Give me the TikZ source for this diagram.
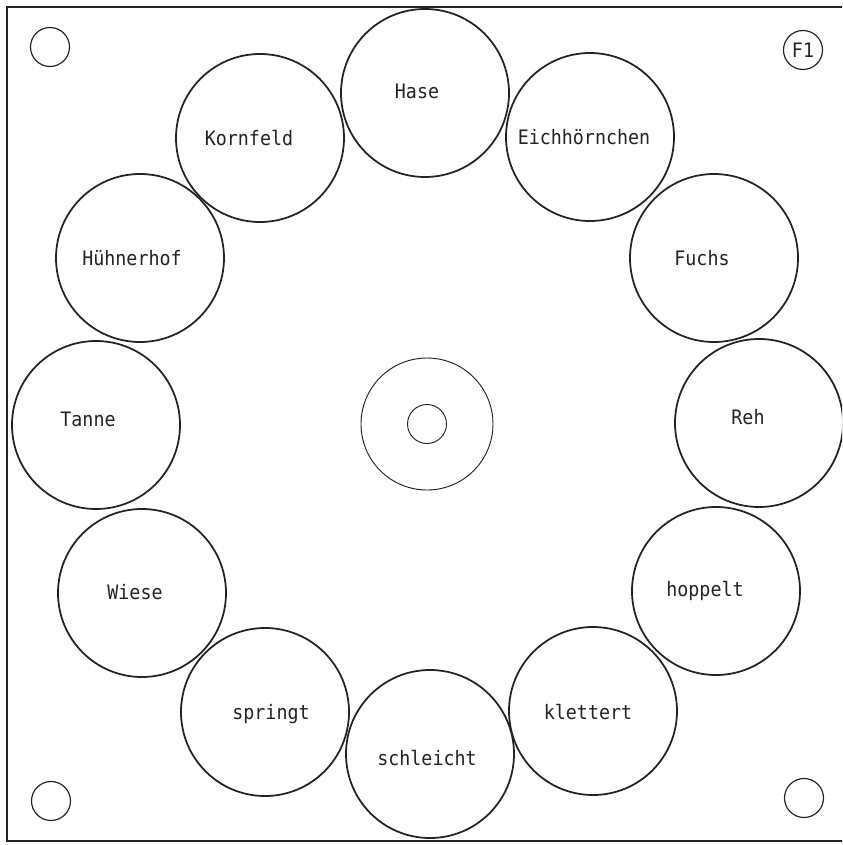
\documentclass[tikz,border=0pt]{standalone}
\usepackage{fontspec}
\newfontfamily\plotfont[FakeStretch=0.92]{DejaVu Sans Mono}
\usetikzlibrary{calc}
\definecolor{ink}{RGB}{35, 35, 35}
\tikzset{
  board/.style={draw=ink, line width=2.1pt},
  feld/.style={
    draw=ink, line width=1.5pt, circle,
    minimum size=50.4mm, inner sep=0pt
  },
  wort/.style={
    font=\plotfont\fontsize{17}{17}\selectfont, text=ink,
    inner sep=0pt, text height=12.5pt, text depth=0pt
  },
  loch/.style={
    draw=ink, line width=1pt, circle,
    minimum size=11.7mm, inner sep=0pt,
    font=\plotfont\fontsize{17}{17}\selectfont, text=ink
  },
  mitte/.style={draw=ink, line width=0.8pt, circle, inner sep=0pt},
}

\begin{document}
\begin{tikzpicture}[x=0.3mm, y=-0.3mm]

  % ============ PAGE ============
  \useasboundingbox (0,0) rectangle (842,845);
  \clip (0,0) rectangle (842,845);
  \fill[white] (0,0) rectangle (842,845);
  \draw[board] (7,7) rectangle (860,841);

  % ============ RING OF FIELDS ============
  \foreach \n/\x/\y/\t/\dx/\dy in {
      hase/425/93/Hase/-8/-2,
      eich/590/137/Eichhörnchen/-6/0,
      fuchs/714/258/Fuchs/-12/0,
      reh/759/423/Reh/-11/-6,
      hopp/716/591/hoppelt/-11/-2,
      klett/593/711/klettert/-5/1,
      schl/430/754/schleicht/-3/4,
      spring/265/712/springt/6/0,
      wiese/142/593/Wiese/-7/-1,
      tanne/96/425/Tanne/-8/-6,
      huehner/140/258/Hühnerhof/-8/0,
      korn/260/138/Kornfeld/-11/0} {
    \node[feld] (\n) at (\x,\y) {};
    \node[wort] (\n-t) at ($(\n)+(\dx,\dy)$) {\t};
  }

  % ============ CENTRE ============
  \node[mitte, minimum size=39.6mm] (scheibe) at (427,424) {};
  \node[mitte, minimum size=11.7mm] (achse) at (427,424) {};

  % ============ CORNERS ============
  \node[loch] (lo) at (50,47) {};
  \node[loch] (lu) at (51,801) {};
  \node[loch] (ru) at (804,798) {};
  \node[loch] (f1) at (803,50) {F1};

\end{tikzpicture}
\end{document}
